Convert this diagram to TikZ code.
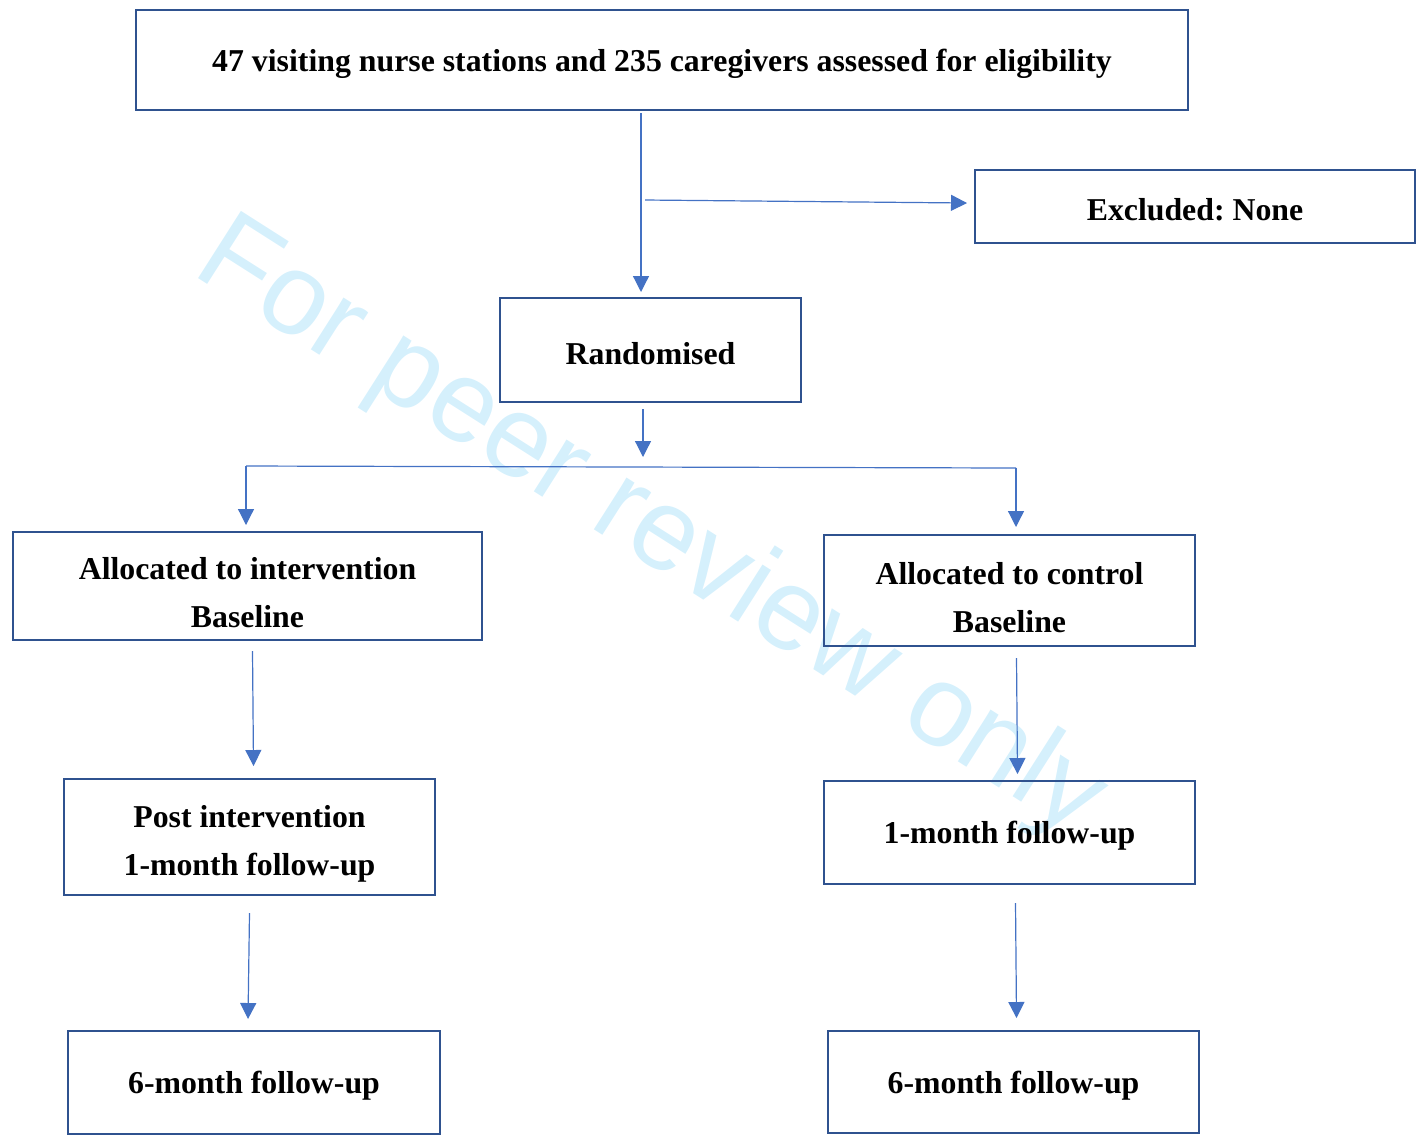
\documentclass[tikz,border=0pt]{standalone}
\usepackage{fontspec}
\setmainfont{Liberation Serif}
\newfontfamily\markfont{Liberation Sans}
\usetikzlibrary{%
  arrows.meta,%
  calc%
}
\definecolor{boxblue}{HTML}{2F528F}
\definecolor{arrblue}{HTML}{4472C4}
\definecolor{markcyan}{HTML}{D5F0FC}
\newcommand{\toppad}{\rule{0pt}{18pt}}
\tikzset{
  stage/.style={draw=boxblue,line width=1pt,align=center,
    font=\fontsize{15.9}{24}\selectfont\bfseries\frenchspacing,inner sep=0pt,
    execute at begin node={\rule{0pt}{14.6pt}}},
  arr/.style={draw=arrblue,line width=0.6pt,-{Triangle[length=8pt,width=8pt]}},
  link/.style={draw=arrblue,line width=0.6pt}
}

\begin{document}
\begin{tikzpicture}[x=0.5pt,y=-0.5pt]
    \useasboundingbox (0,0) rectangle (1416,1137);
    % watermark
    \node[markcyan,rotate=-32.5,font=\markfont\fontsize{58}{60}\selectfont]
      (mark) at (650,530) {For peer review only};
    % boxes
    \node[stage,minimum width=526pt,minimum height=50pt] (elig) at (662,60)
      {47 visiting nurse stations and 235 caregivers assessed for eligibility};
    \node[stage,minimum width=220pt,minimum height=36.5pt] (excl) at (1195,206.5)
      {Excluded: None};
    \node[stage,minimum width=150.5pt,minimum height=52pt] (rand) at (650.5,350)
      {Randomised};
    \node[stage,minimum width=234.5pt,minimum height=54pt] (allocI) at (247.5,586)
      {\toppad Allocated to intervention\\Baseline};
    \node[stage,minimum width=185.5pt,minimum height=55.5pt] (allocC) at (1009.5,590.5)
      {\toppad Allocated to control\\Baseline};
    \node[stage,minimum width=185.5pt,minimum height=58pt] (postI) at (249.5,837)
      {\toppad Post intervention\\1-month follow-up};
    \node[stage,minimum width=185.5pt,minimum height=51.5pt] (monthC) at (1009.5,832.5)
      {1-month follow-up};
    \node[stage,minimum width=186pt,minimum height=51.5pt] (sixI) at (254,1082.5)
      {6-month follow-up};
    \node[stage,minimum width=185.5pt,minimum height=51pt] (sixC) at (1013.5,1082)
      {6-month follow-up};
    % connectors
    \coordinate (branch) at (645,200);
    \coordinate (splitL) at (246,466);
    \coordinate (splitR) at (1016,468);
    \coordinate (splitM) at (643,457);
    \draw[arr] ($(elig.south -| 641,0)+(0,2)$) -- ($(rand.north -| 641,0)+(0,-5)$);
    \draw[arr] (branch) -- ($(excl.west |- 0,203)+(-7,0)$);
    \draw[arr] ($(rand.south -| splitM)+(0,6)$) -- (splitM);
    \draw[link] (splitL) -- (splitR);
    \draw[arr] (splitL) -- ($(allocI.north -| splitL)+(0,-6)$);
    \draw[arr] (splitR) -- ($(allocC.north -| splitR)+(0,-7)$);
    \draw[arr] ($(allocI.south)+(5,10)$) -- ($(postI.north)+(4,-12)$);
    \draw[arr] ($(postI.south)+(0,17)$) -- ($(sixI.north)+(-6,-11)$);
    \draw[arr] ($(allocC.south)+(7,11)$) -- ($(monthC.north)+(8,-6)$);
    \draw[arr] ($(monthC.south)+(6,18)$) -- ($(sixC.north)+(3,-12)$);
\end{tikzpicture}
\end{document}
